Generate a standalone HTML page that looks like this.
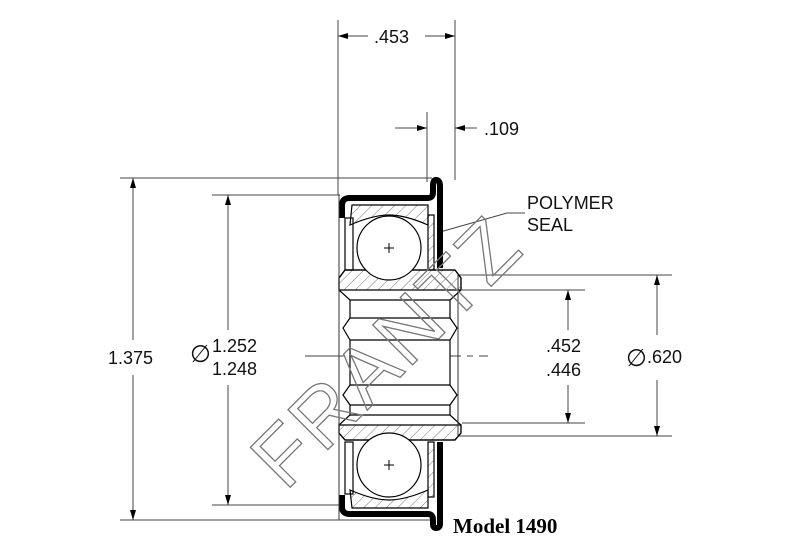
<!DOCTYPE html>
<html><head><style>body{margin:0;background:#fff}svg{display:block}</style></head>
<body>
<svg width="809" height="542" viewBox="0 0 809 542" xmlns="http://www.w3.org/2000/svg" font-family="Liberation Sans, sans-serif">
<defs>
<marker id="a" viewBox="0 0 10 6" refX="10" refY="3" markerWidth="12" markerHeight="6" orient="auto" markerUnits="userSpaceOnUse"><path d="M0 0L10 3L0 6z" fill="#000"/></marker>
<pattern id="h" width="8" height="8" patternUnits="userSpaceOnUse" patternTransform="rotate(45)"><line x1="0" y1="0" x2="0" y2="8" stroke="#555" stroke-width="0.8"/></pattern>
</defs>
<g stroke="#444" stroke-width="1" fill="none">
<line x1="338" y1="20" x2="338" y2="195"/><line x1="455" y1="20" x2="455" y2="180"/>
<line x1="368" y1="36" x2="338" y2="36" marker-end="url(#a)"/><line x1="425" y1="36" x2="455" y2="36" marker-end="url(#a)"/>
<line x1="427" y1="112" x2="427" y2="182"/>
<line x1="395" y1="128" x2="427" y2="128" marker-end="url(#a)"/><line x1="477" y1="128" x2="455" y2="128" marker-end="url(#a)"/>
<line x1="120" y1="178" x2="432" y2="178"/><line x1="120" y1="520" x2="432" y2="520"/>
<line x1="133" y1="340" x2="133" y2="178" marker-end="url(#a)"/><line x1="133" y1="375" x2="133" y2="520" marker-end="url(#a)"/>
<line x1="212" y1="195" x2="340" y2="195"/><line x1="212" y1="505" x2="340" y2="505"/>
<line x1="228" y1="330" x2="228" y2="195" marker-end="url(#a)"/><line x1="228" y1="385" x2="228" y2="505" marker-end="url(#a)"/>
<line x1="462" y1="290" x2="585" y2="290"/><line x1="462" y1="423" x2="585" y2="423"/>
<line x1="568" y1="330" x2="568" y2="290" marker-end="url(#a)"/><line x1="568" y1="385" x2="568" y2="423" marker-end="url(#a)"/>
<line x1="458" y1="275" x2="672" y2="275"/><line x1="458" y1="436" x2="672" y2="436"/>
<line x1="657" y1="335" x2="657" y2="275" marker-end="url(#a)"/><line x1="657" y1="380" x2="657" y2="436" marker-end="url(#a)"/>
<line x1="305" y1="356" x2="488" y2="356" stroke-dasharray="40,6,6,6"/>
<polyline points="525,213 507,213 440,232"/>
</g>
<g stroke="#000" stroke-width="1.2">
<path d="M352 205 H428 V225 Q405 215 389 215 Q373 215 350 225 Z" fill="url(#h)"/>
<path d="M352 508 H428 V490 Q405 500 389 500 Q373 500 350 490 Z" fill="url(#h)"/>
<path d="M345 270 H455 L461 278 V290 L450 300 V318 L457 328 L450 340 V385 L457 395 L450 405 V415 L461 425 V433 L455 440 H345 L339 433 V425 L350 415 V405 L343 395 L350 385 V340 L343 328 L350 318 V300 L339 290 V278 Z" fill="#fff"/>
<path d="M345 270 H455 L461 278 V290 H339 V278 Z" fill="url(#h)"/>
<path d="M339 425 H461 V433 L455 440 H345 L339 433 Z" fill="url(#h)"/>
<path d="M350 300 H450 M350 318 H450 M350 340 H450 M350 385 H450 M350 405 H450 M350 415 H450" fill="none"/>
<circle cx="389" cy="248" r="32" fill="#fff"/><circle cx="389" cy="465" r="32" fill="#fff"/>
<rect x="345" y="218" width="8" height="52" fill="none"/><rect x="345" y="442" width="8" height="52" fill="none"/>
<rect x="428" y="215" width="6" height="55" fill="url(#h)"/><rect x="428" y="442" width="6" height="55" fill="url(#h)"/>
</g>
<g stroke="#000" stroke-width="1" fill="none">
<path d="M384 248h10M389 243v10M384 465h10M389 460v10"/>
</g>
<g fill="none" stroke="#000" stroke-width="6" stroke-linejoin="round">
<path d="M342 218 V205 Q342 198 350 198 H428 Q433 198 433 192 V186 Q433 180 436 180 Q440 180 440 186 V268"/>
<path d="M342 495 V507 Q342 514 350 514 H428 Q433 514 433 520 V524 Q433 528 436 528 Q440 528 440 524 V442"/>
</g>
<line x1="339" y1="195" x2="339" y2="520" stroke="#333" stroke-width="1"/>
<line x1="458" y1="275" x2="458" y2="436" stroke="#333" stroke-width="1"/>
<text x="390" y="378" font-size="82" fill="none" stroke="#777" stroke-width="1.3" text-anchor="middle" transform="rotate(-45 390 355)" letter-spacing="3">FRANTZ</text>
<g font-size="18" fill="#111">
<text x="374" y="43">.453</text>
<text x="484" y="135">.109</text>
<text x="108" y="364">1.375</text>
<text x="190" y="362" font-size="24">∅</text>
<text x="212" y="352">1.252</text>
<text x="212" y="375">1.248</text>
<text x="546" y="352">.452</text>
<text x="546" y="376">.446</text>
<text x="626" y="366" font-size="24">∅</text>
<text x="647" y="363">.620</text>
<text x="527" y="209">POLYMER</text>
<text x="527" y="231">SEAL</text>
</g>
<text x="453" y="533" font-family="Liberation Serif, serif" font-weight="bold" font-size="21" fill="#000">Model 1490</text>
</svg>
</body></html>
